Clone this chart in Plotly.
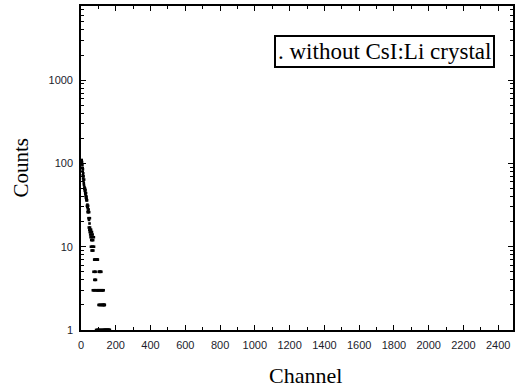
import plotly.graph_objects as go

# Channel numbers (histogram bins) and counts
channels = [4, 5, 6, 7, 8, 9, 10, 11, 12, 13, 14, 15, 16, 17, 18, 19, 20, 21, 22, 23,
            24, 25, 26, 27, 28, 29, 30, 31, 32, 33, 34, 35, 36, 37, 38, 39, 40, 41, 42, 43,
            44, 45, 46, 47, 48, 49, 50, 51, 52, 53, 54, 55, 56, 57, 58, 59, 60, 61, 62, 63,
            64, 65, 66, 67, 68, 69, 70, 71, 72, 73, 74, 75, 76, 77, 78, 79, 80, 81, 82, 83,
            84, 85, 86, 87, 88, 89, 90, 91, 92, 93, 94, 95, 96, 97, 98, 99, 100, 101, 102, 103,
            104, 105, 106, 107, 108, 109, 110, 111, 112, 113, 114, 115, 116, 117, 118, 119, 120, 121, 122, 123,
            125, 126, 127, 128, 129, 130, 131, 132, 133, 134, 135, 136, 137, 138, 140, 142, 144, 146, 148, 150,
            152, 154, 156, 158, 160, 162, 164, 166]
counts = [110, 98, 104, 88, 95, 80, 72, 85, 66, 76, 62, 70, 58, 55, 64, 50, 52, 49, 47, 50,
          45, 43, 48, 41, 39, 44, 38, 36, 40, 37, 31, 36, 30, 32, 26, 29, 27, 31, 26, 22,
          28, 17, 21, 26, 16, 19, 15, 22, 17, 14, 16, 13, 15, 10, 16, 12, 14, 9, 13, 15,
          10, 12, 9, 14, 3, 10, 12, 9, 5, 3, 13, 10, 7, 4, 3, 7, 5, 4, 7, 3,
          5, 7, 4, 1, 7, 3, 7, 1, 7, 3, 7, 1, 3, 7, 1, 3, 1, 2, 5, 3,
          1, 2, 5, 3, 1, 5, 2, 3, 1, 5, 2, 1, 3, 5, 2, 1, 3, 2, 1, 3,
          2, 1, 3, 2, 1, 3, 2, 1, 2, 1, 2, 1, 2, 1, 1, 1, 1, 1, 1, 1,
          1, 1, 1, 1, 1, 1, 1, 1]

x_ticks = [0, 200, 400, 600, 800, 1000, 1200, 1400, 1600, 1800, 2000, 2200, 2400]
y_ticks = [1, 10, 100, 1000]
y_minor = [2, 3, 4, 5, 6, 7, 8, 9, 20, 30, 40, 50, 60, 70, 80, 90,
           200, 300, 400, 500, 600, 700, 800, 900, 2000, 3000, 4000, 5000, 6000, 7000]

fig = go.Figure()
fig.add_trace(go.Scatter(
    x=channels, y=counts, mode="markers",
    marker=dict(symbol="square", size=2.6, color="black", line=dict(width=0)),
    cliponaxis=False, showlegend=False,
))

tickfont = dict(family="Liberation Sans, Arial, sans-serif", size=11, color="#1c1c2c")
axis_common = dict(
    showline=True, linecolor="black", linewidth=1.6, mirror="ticks",
    ticks="inside", tickcolor="black", tickwidth=1.2, ticklen=5,
    showgrid=False, zeroline=False, tickfont=tickfont,
)

fig.update_xaxes(
    range=[0, 2485], tickvals=x_ticks, ticktext=[str(v) for v in x_ticks],
    minor=dict(dtick=100, tick0=0, ticks="inside", ticklen=3, tickcolor="black", tickwidth=1, showgrid=False),
    ticklabelstandoff=4,
    **axis_common,
)
fig.update_yaxes(
    type="log", range=[0, 3.89], tickvals=y_ticks, ticktext=[str(v) for v in y_ticks],
    minor=dict(tickvals=y_minor, ticks="inside", ticklen=3, tickcolor="black", tickwidth=1, showgrid=False),
    ticklabelstandoff=4,
    **axis_common,
)

serif = "Liberation Serif, Times New Roman, serif"
fig.add_annotation(text="Channel", xref="paper", yref="paper", x=0.52, y=-0.14,
                   xanchor="center", yanchor="middle", showarrow=False,
                   font=dict(family=serif, size=22, color="black"))
fig.add_annotation(text="Counts", xref="paper", yref="paper", x=-0.14, y=0.5,
                   xanchor="center", yanchor="middle", textangle=-90, showarrow=False,
                   font=dict(family=serif, size=21, color="black"))
fig.add_annotation(text=". without CsI:Li crystal", xref="paper", yref="paper",
                   x=0.958, y=0.86, xanchor="right", yanchor="middle", showarrow=False,
                   font=dict(family=serif, size=23, color="black"),
                   bordercolor="black", borderwidth=2, borderpad=2, bgcolor="white")

fig.update_layout(
    width=515, height=390,
    margin=dict(l=81, r=0, t=6, b=60),
    plot_bgcolor="white", paper_bgcolor="white",
)

fig.write_html("out.html")
